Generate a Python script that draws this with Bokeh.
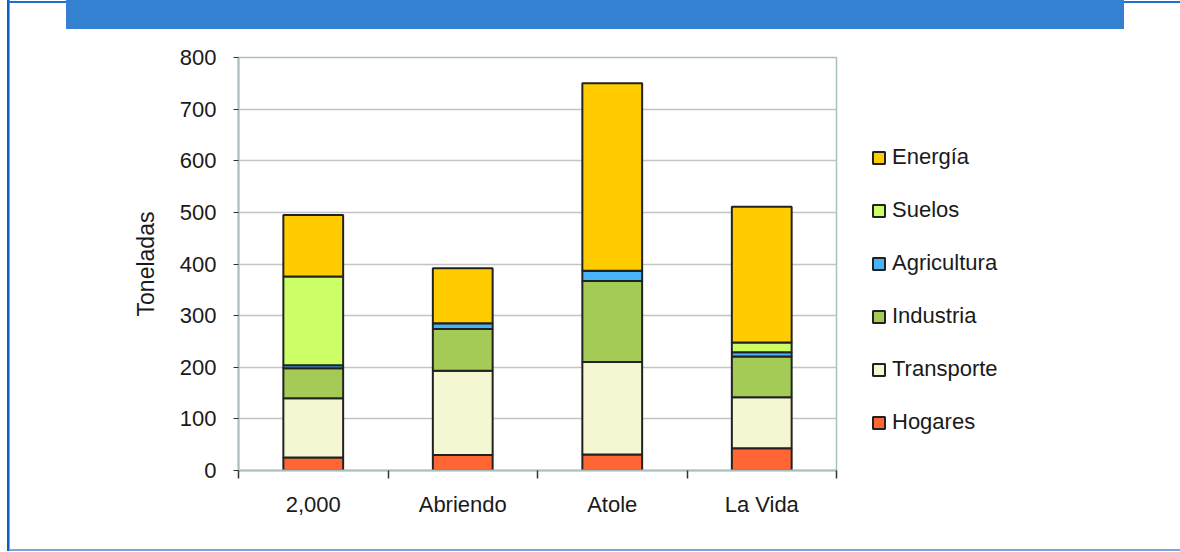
from bokeh.plotting import figure
from bokeh.models import (ColumnDataSource, FixedTicker, Legend, LegendItem, Range1d)
from bokeh.embed import file_html
from bokeh.resources import INLINE

# ---- data ----
categories = ["2,000", "Abriendo", "Atole", "La Vida"]
series = ["Hogares", "Transporte", "Industria", "Agricultura", "Suelos", "Energía"]
hogares = [25, 30, 31, 43]
transporte = [115, 163, 179, 99]
industria = [58, 81, 157, 79]
agricultura = [6, 11, 20, 8]
suelos = [172, 0, 0, 19]
energia = [119, 107, 363, 263]
y_ticks = [0, 100, 200, 300, 400, 500, 600, 700, 800]

colors = ["#FF6633", "#F5F7D3", "#A4CB55", "#47B4F9", "#CCFF66", "#FFCC00"]

xs = [i + 1 for i in range(len(categories))]
boundaries = [i + 0.5 for i in range(len(categories) + 1)]

source = ColumnDataSource(dict(
    x=xs, Hogares=hogares, Transporte=transporte, Industria=industria,
    Agricultura=agricultura, Suelos=suelos, **{"Energía": energia}))

FONT = "Liberation Sans"
TXT = "#1a1a1a"
AXC = "#A8BFC2"

p = figure(frame_width=598, frame_height=413,
           x_range=Range1d(0.5, len(categories) + 0.5),
           y_range=Range1d(0, 800),
           output_backend="svg", toolbar_location=None,
           min_border_left=238, min_border_right=344,
           min_border_top=57, min_border_bottom=82)

p.background_fill_color = "white"
p.border_fill_color = None
p.outline_line_color = AXC
p.outline_line_width = 1.5

# page frame + banner drawn as the plot element's CSS background
p.styles = {
    "background": (
        "linear-gradient(#3381D0,#3381D0) 66px 0/1058px 29px no-repeat,"
        "linear-gradient(#1F6FCC,#1F6FCC) 8px 1px/1172px 2px no-repeat,"
        "linear-gradient(#0A5FC0,#0A5FC0) 7px 0/2px 551px no-repeat,"
        "linear-gradient(#6FA6E6,#6FA6E6) 9px 0/1px 551px no-repeat,"
        "linear-gradient(#7AA6DC,#7AA6DC) 8px 549px/1172px 2px no-repeat,"
        "#ffffff"
    )
}

renderers = p.vbar_stack(series, x="x", width=0.4, source=source,
                         color=colors, line_color="#222222", line_width=2)

# grid
p.xgrid.grid_line_color = None
p.ygrid.ticker = FixedTicker(ticks=y_ticks)
p.ygrid.grid_line_color = "#C4C4C4"
p.ygrid.grid_line_width = 1.5

# y axis
ya = p.yaxis[0]
ya.ticker = FixedTicker(ticks=y_ticks, minor_ticks=[])
ya.axis_line_color = AXC
ya.axis_line_width = 2
ya.major_tick_in = 0
ya.major_tick_out = 5
ya.major_tick_line_color = "#333333"
ya.minor_tick_line_color = None
ya.major_label_text_font = FONT
ya.major_label_text_font_size = "22px"
ya.major_label_text_color = TXT
ya.major_label_standoff = 17
ya.axis_label = "Toneladas"
ya.axis_label_text_font = FONT
ya.axis_label_text_font_size = "23px"
ya.axis_label_text_font_style = "normal"
ya.axis_label_text_color = TXT
ya.axis_label_standoff = 18

# x axis
xa = p.xaxis[0]
xa.ticker = FixedTicker(ticks=xs, minor_ticks=boundaries)
xa.major_label_overrides = {float(x): c for x, c in zip(xs, categories)}
xa.axis_line_color = AXC
xa.axis_line_width = 2
xa.major_tick_line_color = None
xa.major_tick_in = 0
xa.major_tick_out = 0
xa.minor_tick_in = 0
xa.minor_tick_out = 8
xa.minor_tick_line_color = "#333333"
xa.minor_tick_line_width = 1.5
xa.major_label_text_font = FONT
xa.major_label_text_font_size = "22px"
xa.major_label_text_color = TXT
xa.major_label_standoff = 13

# legend (top item = Energía), in the right-hand panel
items = [LegendItem(label=name, renderers=[r])
         for name, r in reversed(list(zip(series, renderers)))]
legend = Legend(items=items, location="bottom_left",
                glyph_width=15, glyph_height=15, label_height=20,
                spacing=27, padding=0, margin=35, label_standoff=6,
                border_line_color=None, background_fill_alpha=0,
                label_text_font=FONT, label_text_font_size="22px",
                label_text_color=TXT)
p.add_layout(legend, "right")

open("out.html", "w").write(file_html(p, INLINE))
